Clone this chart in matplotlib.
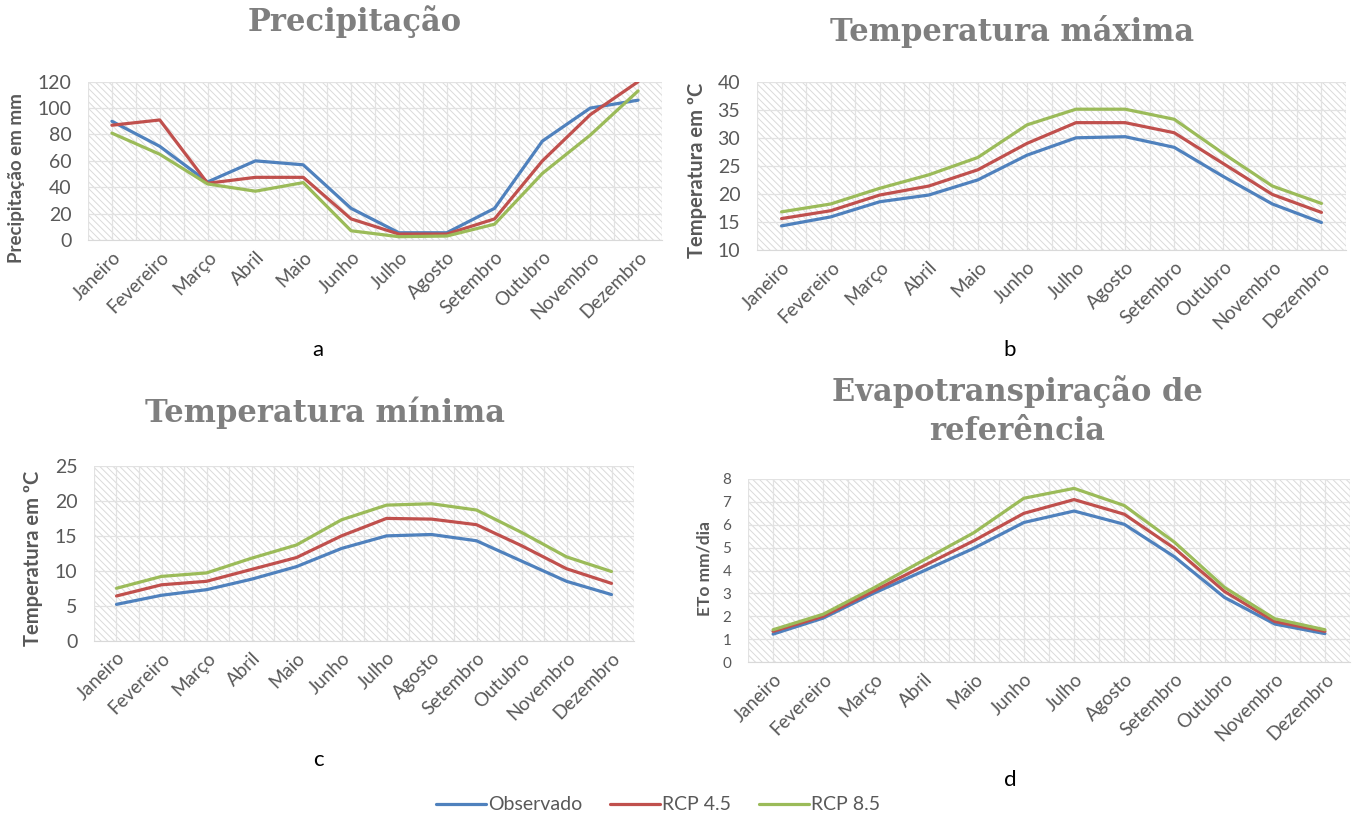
import matplotlib
matplotlib.use("Agg")
import matplotlib.pyplot as plt
from matplotlib.patches import Rectangle

W, H = 1352, 816

months = ["Janeiro", "Fevereiro", "Março", "Abril", "Maio", "Junho",
          "Julho", "Agosto", "Setembro", "Outubro", "Novembro", "Dezembro"]

prec_obs = [90, 71, 44, 60, 57, 24, 5.5, 5.5, 24, 75, 100, 106]
prec_45 = [87, 91, 43, 47.5, 47.5, 16, 4.5, 4.5, 16, 60, 95, 120]
prec_85 = [81, 65, 42.5, 37, 43.5, 7, 2.5, 3, 12, 50.5, 79.5, 113]

tmax_obs = [14.3, 15.9, 18.6, 19.8, 22.5, 26.9, 30.0, 30.2, 28.3, 23.1, 18.2, 14.9]
tmax_45 = [15.6, 17.0, 19.8, 21.4, 24.3, 29.0, 32.7, 32.7, 30.9, 25.4, 19.9, 16.7]
tmax_85 = [16.8, 18.2, 21.0, 23.4, 26.5, 32.3, 35.1, 35.1, 33.3, 27.2, 21.4, 18.3]

tmin_obs = [5.2, 6.5, 7.3, 8.8, 10.6, 13.2, 15.0, 15.2, 14.3, 11.4, 8.5, 6.6]
tmin_45 = [6.4, 8.0, 8.5, 10.2, 11.9, 15.0, 17.5, 17.4, 16.6, 13.6, 10.3, 8.2]
tmin_85 = [7.5, 9.2, 9.7, 11.8, 13.7, 17.3, 19.4, 19.6, 18.7, 15.5, 12.0, 9.9]

eto_obs = [1.22, 1.92, 3.0, 3.98, 4.97, 6.1, 6.6, 6.02, 4.6, 2.82, 1.66, 1.24]
eto_45 = [1.34, 2.0, 3.1, 4.2, 5.3, 6.5, 7.1, 6.46, 4.97, 3.08, 1.77, 1.34]
eto_85 = [1.41, 2.09, 3.23, 4.45, 5.65, 7.16, 7.59, 6.84, 5.24, 3.26, 1.89, 1.41]

series_names = ["Observado", "RCP 4.5", "RCP 8.5"]
colors = ["#4F81BD", "#C0504D", "#9BBB59"]

SANS = ["Lato", "DejaVu Sans"]
SERIF = ["DejaVu Serif"]
GRAY = "#595959"
GRID = "#e2e2e2"

plt.rcParams["font.family"] = SANS
plt.rcParams["hatch.linewidth"] = 0.7
plt.rcParams["hatch.color"] = "#dadada"


def px_rect(left, top, right, bottom):
    return [left / W, 1 - bottom / H, (right - left) / W, (bottom - top) / H]


def panel(fig, rect, data, ylim, ystep, tick_size):
    ax = fig.add_axes(px_rect(*rect))
    # fundo hachurado como no Excel
    ax.add_patch(Rectangle((0, 0), 1, 1, transform=ax.transAxes,
                           facecolor="white", edgecolor="#dadada",
                           linewidth=0, hatch="\\" * 5, zorder=0))
    lines = []
    for vals, c, name in zip(data, colors, series_names):
        ln, = ax.plot(range(len(months)), vals, color=c, lw=2.3,
                      label=name, zorder=3, solid_capstyle="round")
        lines.append(ln)
    ax.set_xlim(-0.5, len(months) - 0.5)
    ax.set_ylim(*ylim)
    ax.set_yticks(range(ylim[0], ylim[1] + 1, ystep))
    ax.set_xticks(range(len(months)))
    ax.set_xticks([i - 0.5 for i in range(len(months) + 1)], minor=True)
    ax.set_xticklabels(months, rotation=45, ha="right",
                       rotation_mode="anchor", fontsize=13.5, color=GRAY)
    ax.tick_params(axis="y", labelsize=tick_size, labelcolor=GRAY,
                   length=0, pad=12)
    ax.tick_params(axis="x", which="both", length=0, pad=6)
    ax.grid(axis="y", color=GRID, lw=0.9, zorder=1)
    ax.grid(axis="x", which="both", color=GRID, lw=0.9, zorder=1)
    ax.set_axisbelow(True)
    for s in ["top", "right", "left"]:
        ax.spines[s].set_visible(False)
    ax.spines["bottom"].set_color("#d9d9d9")
    return lines


fig = plt.figure(figsize=(W / 100, H / 100), dpi=100)

lines = panel(fig, (88, 81.7, 662, 240), [prec_obs, prec_45, prec_85],
              (0, 120), 20, 14)
panel(fig, (757, 81.7, 1346, 250), [tmax_obs, tmax_45, tmax_85],
      (10, 40), 5, 14)
panel(fig, (94, 466, 634, 640.7), [tmin_obs, tmin_45, tmin_85],
      (0, 25), 5, 14)
panel(fig, (748, 479, 1350, 662), [eto_obs, eto_45, eto_85],
      (0, 8), 1, 11)

title_kw = dict(family=SERIF, fontweight="bold", fontsize=22,
                color="#7F7F7F", ha="center", va="center")
fig.text(355 / W, 1 - 22 / H, "Precipitação", **title_kw)
fig.text(1012 / W, 1 - 32 / H, "Temperatura máxima", **title_kw)
fig.text(325 / W, 1 - 413 / H, "Temperatura mínima", **title_kw)
fig.text(1017 / W, 1 - 411 / H, "Evapotranspiração de\nreferência",
         linespacing=1.35, **title_kw)

ylab_kw = dict(fontweight="bold", color=GRAY, rotation=90,
               ha="center", va="center")
fig.text(17 / W, 1 - 178 / H, "Precipitação em mm", fontsize=13.5, **ylab_kw)
fig.text(697 / W, 1 - 170 / H, "Temperatura em ºC", fontsize=14.5, **ylab_kw)
fig.text(33 / W, 1 - 558 / H, "Temperatura em ºC", fontsize=14.5, **ylab_kw)
fig.text(705 / W, 1 - 568 / H, "ETo mm/dia", fontsize=12.5, **ylab_kw)

letter_kw = dict(fontsize=16, color="black", ha="center", va="center")
fig.text(318 / W, 1 - 350 / H, "a", **letter_kw)
fig.text(1010 / W, 1 - 350 / H, "b", **letter_kw)
fig.text(318 / W, 1 - 760 / H, "c", **letter_kw)
fig.text(1010 / W, 1 - 780 / H, "d", **letter_kw)

fig.legend(handles=lines, loc="center", bbox_to_anchor=(658 / W, 1 - 805 / H),
           ncol=3, frameon=False, fontsize=14, handlelength=2.6,
           handletextpad=0.1, columnspacing=1.4, labelcolor=GRAY)

fig.savefig("out.png", dpi=100)
